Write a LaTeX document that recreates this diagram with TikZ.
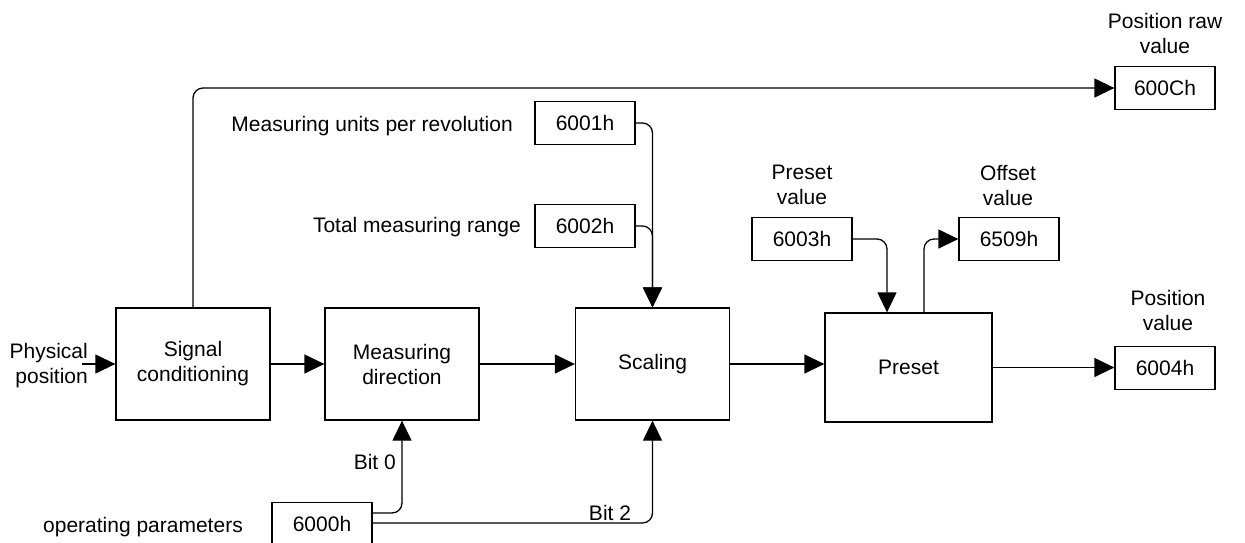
\documentclass[tikz,border=0pt]{standalone}
\usepackage{fontspec}
\setmainfont{Liberation Sans}
\usetikzlibrary{arrows.meta,calc}
\begin{document}
\begin{tikzpicture}[x=1pt,y=-1pt,
  every node/.style={font=\fontsize{21}{25}\selectfont, inner sep=0pt},
  blk/.style={draw, line width=1.3pt, minimum width=154pt, minimum height=112pt, align=center},
  reg/.style={draw, line width=1.3pt, minimum width=100pt, minimum height=43pt},
  lbl/.style={align=center},
  conn/.style={line width=1.3pt, rounded corners=10pt},
  arr/.style={conn, -{Triangle[length=20pt,width=19pt]}}
]
\useasboundingbox (0,0) rectangle (1245,542);

% main blocks
\node[blk] (sc) at (193,364) {Signal\\conditioning};
\node[blk] (md) at (402,364) {Measuring\\direction};
\node[blk] (sca) at (652.5,364) {Scaling};
\node[blk, minimum width=167pt, minimum height=109pt] (pre) at (908.5,367.5) {Preset};

% registers
\node[reg] (r600C) at (1165,88) {600Ch};
\node[reg] (r6001) at (585,123) {6001h};
\node[reg] (r6002) at (585,226) {6002h};
\node[reg] (r6003) at (802,239) {6003h};
\node[reg] (r6509) at (1009,239) {6509h};
\node[reg] (r6004) at (1165,368) {6004h};
\node[reg] (r6000) at (322,524) {6000h};

% labels
\node[lbl] (lraw) at (1165,33) {Position raw\\value};
\node[anchor=east] (lmu) at (513,126) {Measuring units per revolution};
\node[anchor=east] (ltm) at (521,227) {Total measuring range};
\node[lbl] (lpv) at (802,185) {Preset\\value};
\node[lbl] (lov) at (1008,185) {Offset\\value};
\node[lbl] (lpos) at (1168,310) {Position\\value};
\node[align=right, anchor=east] (lphys) at (88,366) {Physical\\position};
\node[anchor=east] (lb0) at (396,462) {Bit 0};
\node (lb2) at (610,513) {Bit 2};
\node (lop) at (143,527) {operating parameters};

% connectors
\coordinate (pin) at (82,364);
\draw[arr] (pin) -- (sc.west);
\draw[arr] (sc.east) -- (md.west);
\draw[arr] (md.east) -- (sca.west);
\draw[arr] (sca.east) -- (sca.east -| pre.west);
\draw[arr] (pre.east) -- (pre.east -| r6004.west);
\draw[arr] (sc.north) |- (r600C.west);
\draw[arr] (r6001.east) -| (sca.north);
\draw[arr] (r6002.east) -| (sca.north);
\draw[arr] (r6003.east) -| ([xshift=-21.5pt]pre.north);
\draw[arr] ([xshift=15.5pt]pre.north) |- (r6509.west);
\draw[arr] ([yshift=11pt]r6000.east) -| (md.south);
\draw[arr] ([yshift=1pt]r6000.east) -| (sca.south);
\end{tikzpicture}
\end{document}
